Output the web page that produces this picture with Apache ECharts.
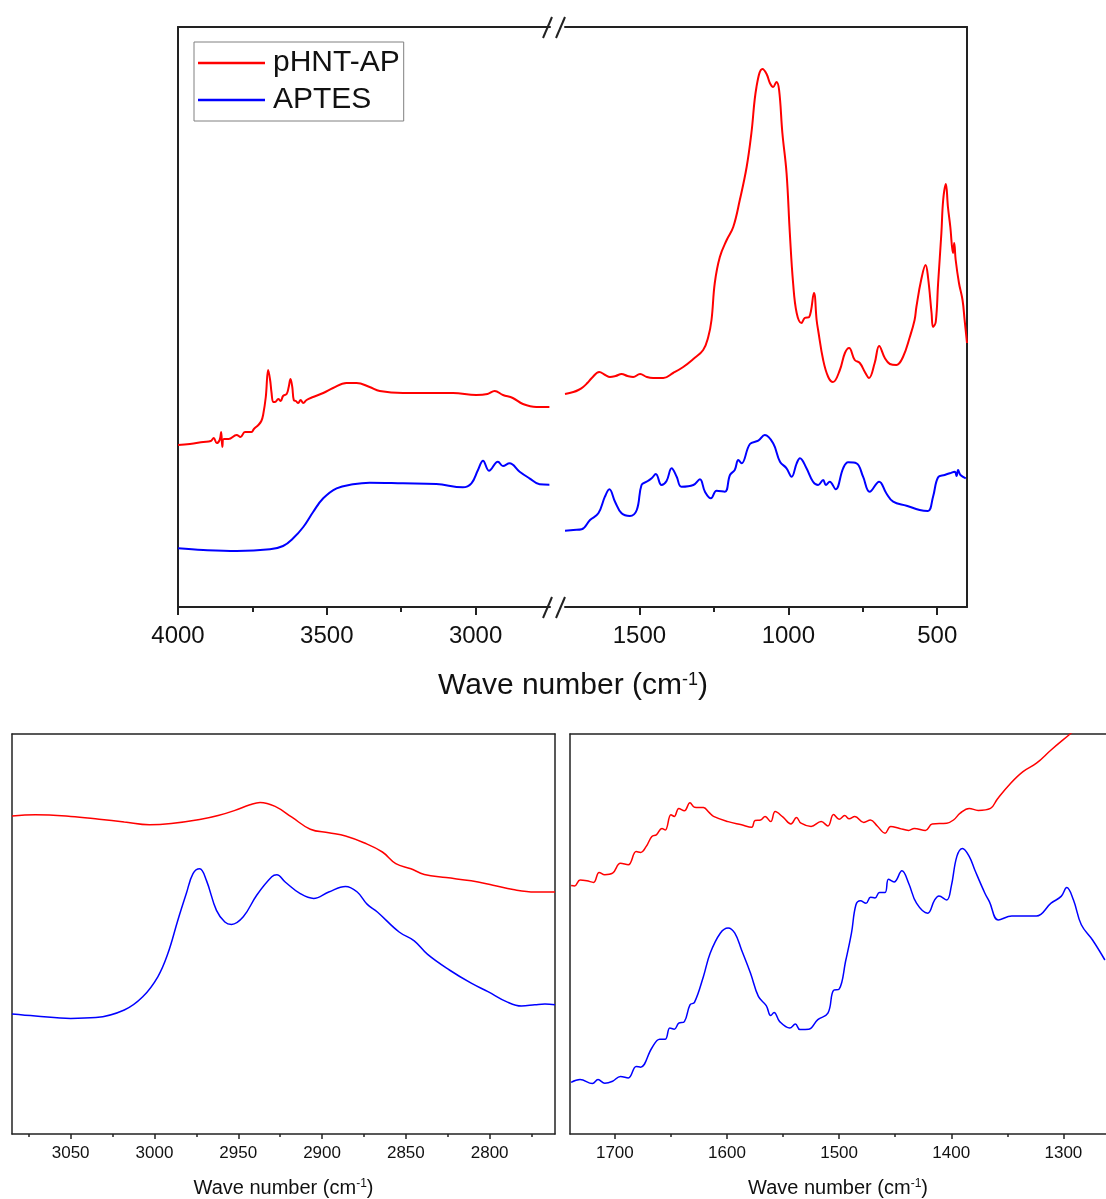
<!DOCTYPE html>
<html>
<head>
<meta charset="utf-8">
<script src="https://cdn.jsdelivr.net/npm/echarts@6.0.0/dist/echarts.min.js"></script>
<style>
html,body{margin:0;padding:0;background:#fff}
#main{width:1106px;height:1199px}
</style>
</head>
<body>
<div id="main"></div>
<script>
// FTIR spectra: pHNT-AP vs APTES (y = arbitrary offset units)
const seriesNames = ['pHNT-AP', 'APTES'];

// top panel, 4000-2750 segment
const redTopLeft = [[4000,162],[3960,163],[3915,165],[3890,166],[3880,169],[3870,164],[3860,167],[3855,175],[3851,160],[3846,168],[3830,168],[3803,172],[3790,170],[3775,175],[3753,175],[3745,178],[3730,182],[3720,186],[3714,192],[3705,210],[3697,237],[3690,226],[3686,215],[3680,205],[3674,205],[3663,208],[3655,206],[3647,211],[3635,213],[3628,220],[3622,228],[3616,220],[3611,207],[3604,206],[3596,204],[3588,207],[3579,204],[3568,207],[3546,210],[3512,214],[3479,219],[3434,224],[3400,224],[3356,220],[3322,216],[3244,214],[3132,214],[3076,214],[2998,212],[2960,213],[2936,216],[2908,212],[2875,209],[2841,203],[2796,200],[2752,200]];
const blueTopLeft = [[4000,58.7],[3915,57],[3803,56],[3691,57.7],[3647,61],[3613,68.7],[3579,80],[3546,95],[3512,108.7],[3467,118.7],[3412,122.7],[3356,124.3],[3244,123.7],[3132,123],[3043,119.7],[3014,123.7],[2992,137],[2975,146.3],[2955,136.3],[2925,145.3],[2908,141],[2886,143.7],[2852,135.3],[2819,128.7],[2785,122.7],[2752,122.3]];

// top panel, 1750-400 segment
const redTopRight = [[1750,213],[1722,215],[1705,217],[1689,220],[1675,224],[1660,229],[1635,235],[1615,232],[1599,230],[1580,231],[1560,233],[1540,231],[1521,230],[1498,233],[1475,230],[1454,229],[1420,229],[1387,234],[1353,240],[1319,248],[1286,257],[1269,270],[1258,287],[1247,324],[1230,350],[1207,367],[1185,380],[1163,407],[1140,440],[1124,474],[1107,520],[1087,538],[1073,533],[1062,524],[1051,520],[1040,525],[1031,517],[1020,474],[1006,434],[995,374],[984,324],[972,294],[956,284],[945,289],[930,290],[914,314],[905,287],[900,277],[883,247],[866,230],[850,225],[827,237],[810,254],[796,259],[777,247],[760,244],[743,235],[729,229],[710,244],[695,261],[676,249],[659,243],[637,242],[615,250],[592,270],[576,287],[570,300],[554,327],[539,342],[531,330],[519,294],[514,280],[505,285],[497,324],[486,374],[480,407],[471,423],[464,400],[456,380],[447,354],[443,364],[438,347],[427,324],[415,307],[408,287],[400,264]];
const blueTopRight = [[1750,76.3],[1722,77],[1694,77.7],[1666,87],[1638,93.7],[1616,110.3],[1601,117.7],[1582,105.3],[1560,93.7],[1532,91],[1509,97],[1493,122],[1476,125.3],[1459,128.7],[1445,133],[1426,122],[1409,126],[1392,138.7],[1375,130.3],[1359,120.3],[1319,122],[1297,127.7],[1280,115.3],[1260,108.7],[1241,116.3],[1213,115.3],[1196,132],[1180,137],[1168,147],[1157,143.7],[1129,163],[1101,166.3],[1079,172],[1051,163.7],[1028,145.3],[1006,138.7],[989,130.3],[972,143.7],[961,148.7],[939,138.7],[917,125.3],[900,122],[883,127],[874,122],[861,125.3],[841,117.7],[816,138.7],[799,144.7],[771,143.7],[749,130.3],[727,115.3],[695,125.3],[671,113.7],[648,105.3],[603,101.3],[559,97],[531,96],[514,110.3],[497,129.7],[475,132],[458,133.7],[441,135.3],[435,131],[430,137],[422,132],[404,128.7]];

// bottom-left zoom, 3085-2761
const redBottomLeft = [[3085,79.5],[3071,79.8],[3050,79.4],[3033,78.7],[3018,78.0],[3003,77.3],[2990,77.6],[2973,78.6],[2962,79.6],[2952,80.9],[2943,82.3],[2937,82.9],[2928,81.9],[2918,79.2],[2907,76.2],[2896,75.3],[2886,74.5],[2875,72.8],[2864,70.5],[2856,67.6],[2847,66.3],[2839,64.9],[2826,64.1],[2811,63.3],[2798,62.2],[2786,61.1],[2773,60.5],[2761,60.5]];
const blueBottomLeft = [[3085,30.0],[3071,29.5],[3050,28.9],[3035,29.1],[3018,31.0],[3007,34.3],[2998,39.3],[2992,45.1],[2986,53.5],[2981,60.1],[2977,65.1],[2973,66.3],[2969,63.4],[2963,55.9],[2958,53.0],[2954,52.4],[2947,54.3],[2939,59.7],[2930,64.3],[2927,64.8],[2922,63.0],[2913,60.1],[2905,58.9],[2896,60.5],[2886,61.9],[2879,60.5],[2873,57.4],[2867,55.5],[2854,50.5],[2845,48.3],[2837,44.9],[2824,41.0],[2811,37.7],[2801,35.6],[2790,33.1],[2781,32.0],[2773,32.3],[2767,32.5],[2761,32.3]];

// bottom-right zoom, 1740-1262
const redBottomRight = [[1739,62.1],[1736,62.0],[1731,63.5],[1725,63.3],[1719,62.9],[1714,65.4],[1709,64.8],[1702,65.2],[1695,67.7],[1688,67.3],[1681,70.6],[1677,70.4],[1672,71.9],[1667,74.4],[1663,74.8],[1658,76.4],[1655,76.0],[1650,79.8],[1647,79.4],[1643,81.4],[1638,80.8],[1633,82.8],[1629,81.7],[1621,81.6],[1616,80.4],[1612,79.4],[1599,78.1],[1587,77.3],[1578,76.7],[1575,78.4],[1570,78.5],[1566,79.4],[1561,78.1],[1557,80.6],[1550,79.2],[1543,77.5],[1538,79.1],[1534,77.7],[1525,76.9],[1516,78.1],[1510,77.0],[1505,79.9],[1500,78.7],[1495,79.6],[1491,78.8],[1486,79.4],[1478,77.9],[1472,78.5],[1466,77.0],[1459,75.2],[1454,76.9],[1446,76.4],[1438,75.9],[1433,76.4],[1423,75.9],[1417,77.5],[1404,77.7],[1398,78.5],[1392,80.2],[1384,81.4],[1376,80.9],[1365,81.4],[1359,83.7],[1347,87.7],[1336,90.6],[1324,92.7],[1311,96.0],[1294,100.0],[1280,103.3],[1262,107.5]];
const blueBottomRight = [[1739,12.9],[1731,13.6],[1720,12.6],[1715,13.6],[1709,12.7],[1702,13.2],[1695,14.4],[1688,14.0],[1681,16.9],[1677,16.7],[1667,21.5],[1660,23.7],[1655,23.7],[1651,26.5],[1647,26.2],[1643,27.7],[1638,28.1],[1633,32.3],[1629,32.9],[1621,39.4],[1615,45.2],[1606,50.2],[1599,51.5],[1593,50.2],[1587,46.0],[1579,40.2],[1572,34.4],[1565,32.1],[1561,29.6],[1558,30.4],[1553,28.1],[1544,26.5],[1539,27.5],[1535,26.1],[1527,26.2],[1519,28.6],[1510,30.2],[1505,35.9],[1500,36.2],[1494,43.5],[1489,50.2],[1485,57.3],[1481,58.3],[1476,57.7],[1472,59.2],[1468,59.0],[1464,60.4],[1459,60.4],[1456,63.7],[1451,63.0],[1444,65.8],[1438,62.7],[1431,57.7],[1421,55.2],[1415,58.4],[1411,59.5],[1404,58.5],[1400,61.9],[1395,69.4],[1390,71.4],[1384,69.4],[1379,66.0],[1370,60.2],[1366,58.1],[1358,53.5],[1346,54.5],[1336,54.5],[1324,54.5],[1311,57.7],[1302,59.4],[1297,61.6],[1291,58.5],[1284,52.3],[1274,48.5],[1263,43.5]];

// tick values
const topLeftMajor = [3000, 3500, 4000], topLeftMinor = [3250, 3750];
const topRightMajor = [500, 1000, 1500], topRightMinor = [750, 1250];
const botLeftMajor = [2800, 2850, 2900, 2950, 3000, 3050];
const botLeftMinor = [2775, 2825, 2875, 2925, 2975, 3025, 3075];
const botRightMajor = [1300, 1400, 1500, 1600, 1700];
const botRightMinor = [1350, 1450, 1550, 1650];

const FONT = 'Arial, "Liberation Sans", sans-serif';
const INK = '#222';
const RED = '#ff0000', BLUE = '#0000ff';

const chart = echarts.init(document.getElementById('main'), null, {renderer: 'canvas'});

const nameRich = function(fs) {
    return {
        fontSize: fs, fontFamily: FONT, color: '#111',
        rich: {s: {fontSize: Math.round(fs * 0.6), fontFamily: FONT, color: '#111', verticalAlign: 'top'}}
    };
};

// three x axes per panel: bottom with labels, bottom minor ticks, top border line
function xAxesFor(g, min, max, majors, minors, st) {
    const ls = {color: INK, width: st.lw};
    const main = {
        gridIndex: g, type: 'value', min: min, max: max, inverse: true, position: 'bottom',
        axisLine: {show: true, onZero: false, lineStyle: ls},
        axisTick: {show: true, inside: false, length: st.major, customValues: majors, lineStyle: ls},
        axisLabel: {
            show: true, customValues: majors, margin: st.margin, fontSize: st.fs, color: '#111', fontFamily: FONT,
            formatter: function(v) { return String(v); }
        },
        splitLine: {show: false}
    };
    if (st.name) {
        main.name = 'Wave number (cm{s|-1})';
        main.nameLocation = 'middle';
        main.nameGap = st.nameGap;
        main.nameTextStyle = nameRich(st.nameFs);
    }
    return [main, {
        gridIndex: g, type: 'value', min: min, max: max, inverse: true, position: 'bottom',
        axisLine: {show: false, onZero: false},
        axisTick: {show: true, inside: false, length: st.minor, customValues: minors, lineStyle: ls},
        axisLabel: {show: false}, splitLine: {show: false}
    }, {
        gridIndex: g, type: 'value', min: min, max: max, inverse: true, position: 'top',
        axisLine: {show: true, onZero: false, lineStyle: ls},
        axisTick: {show: false}, axisLabel: {show: false}, splitLine: {show: false}
    }];
}

function yAxisFor(g, max, pos, lw) {
    return {
        gridIndex: g, type: 'value', min: 0, max: max, position: pos,
        axisLine: {show: true, onZero: false, lineStyle: {color: INK, width: lw}},
        axisTick: {show: false}, axisLabel: {show: false}, splitLine: {show: false}
    };
}

const topStyle = {lw: 2, major: 8, minor: 5, margin: 17, fs: 24};
const botStyle = {lw: 1.5, major: 5, minor: 3, margin: 11, fs: 17, name: true, nameGap: 44, nameFs: 20};

const xAxes = [].concat(
    xAxesFor(0, 2750, 4000, topLeftMajor, topLeftMinor, topStyle),
    xAxesFor(1, 400, 1750, topRightMajor, topRightMinor, topStyle),
    xAxesFor(2, 2761, 3085, botLeftMajor, botLeftMinor, botStyle),
    xAxesFor(3, 1262, 1740, botRightMajor, botRightMinor, botStyle)
);
const yAxes = [
    yAxisFor(0, 580, 'left', 2),
    yAxisFor(1, 580, 'right', 2),
    yAxisFor(2, 100, 'left', 1.5),
    yAxisFor(2, 100, 'right', 1.5),
    yAxisFor(3, 100, 'left', 1.5)
];

function line(name, data, xi, yi, color, w) {
    return {
        name: name, type: 'line', data: data, xAxisIndex: xi, yAxisIndex: yi,
        showSymbol: false, symbol: 'none', smooth: 0.4,
        lineStyle: {color: color, width: w}, itemStyle: {color: color}, clip: true
    };
}

const breakMark = function(x, y) {
    return {type: 'line', shape: {x1: x, y1: y + 11, x2: x + 9, y2: y - 10},
            style: {stroke: INK, lineWidth: 2}, z: 100};
};

const option = {
    animation: false,
    backgroundColor: '#fff',
    grid: [
        {left: 178, top: 27, width: 372, height: 580, containLabel: false, outerBoundsMode: 'none'},
        {left: 565, top: 27, width: 402, height: 580, containLabel: false, outerBoundsMode: 'none'},
        {left: 12, top: 734, width: 543, height: 400, containLabel: false, outerBoundsMode: 'none'},
        {left: 570, top: 734, width: 536, height: 400, containLabel: false, outerBoundsMode: 'none'}
    ],
    legend: {
        data: seriesNames, orient: 'vertical', left: 194, top: 42,
        icon: 'rect', itemWidth: 67, itemHeight: 2.5, itemGap: 3,
        borderColor: '#808080', borderWidth: 1, padding: [4, 4, 4, 4],
        textStyle: {fontSize: 30, fontFamily: FONT, color: '#111', lineHeight: 34, padding: [0, 0, 0, 3]}
    },
    xAxis: xAxes,
    yAxis: yAxes,
    graphic: [
        breakMark(543, 27), breakMark(556, 27),
        breakMark(543, 607), breakMark(556, 607),
        {
            type: 'text', x: 573, y: 686, z: 100,
            style: {
                text: 'Wave number (cm{s|-1})', fontSize: 30, fontFamily: FONT, fill: '#111',
                align: 'center', verticalAlign: 'middle',
                rich: {s: {fontSize: 18, fontFamily: FONT, fill: '#111', verticalAlign: 'top'}}
            }
        }
    ],
    series: [
        line('pHNT-AP', redTopLeft, 0, 0, RED, 2),
        line('APTES', blueTopLeft, 0, 0, BLUE, 2),
        line('pHNT-AP', redTopRight, 3, 1, RED, 2),
        line('APTES', blueTopRight, 3, 1, BLUE, 2),
        line('pHNT-AP', redBottomLeft, 6, 2, RED, 1.5),
        line('APTES', blueBottomLeft, 6, 2, BLUE, 1.5),
        line('pHNT-AP', redBottomRight, 9, 4, RED, 1.5),
        line('APTES', blueBottomRight, 9, 4, BLUE, 1.5)
    ]
};

chart.setOption(option);
</script>
</body>
</html>
